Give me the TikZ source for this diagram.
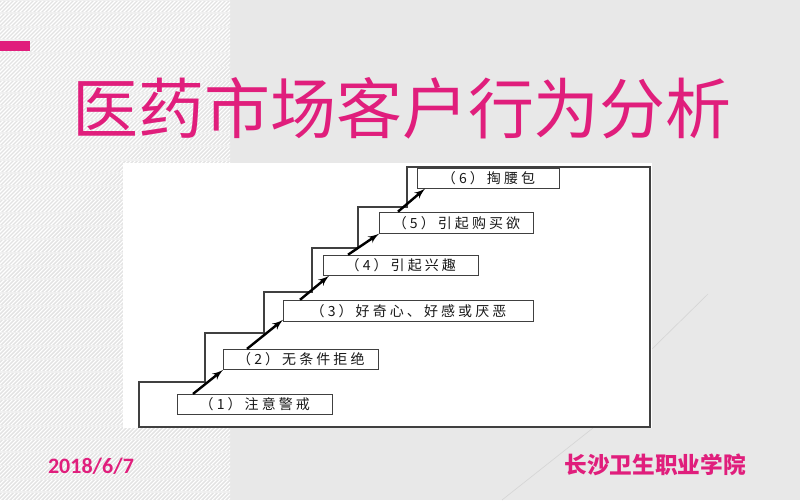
\documentclass[tikz,border=0pt]{standalone}
\usepackage{fontspec}
\setmainfont{Carlito}
\newfontfamily\cjk{Noto Sans CJK SC}
\newfontfamily\stepfont[LetterSpace=22]{Noto Sans CJK SC}
\usepackage{tikz}
\usetikzlibrary{arrows,calc,positioning}
\definecolor{rose}{HTML}{E01E7C}
\definecolor{paper}{HTML}{E8E8E8}

\begin{document}
\begin{tikzpicture}[auto,>=latex',x=0.75pt,y=-0.75pt]
	\tikzstyle{stage} = [draw=black!75, line width=0.8pt, fill=white, rectangle, minimum height=15pt, minimum width=116pt, inner sep=0pt, font=\stepfont\fontsize{10.5}{11}\selectfont, text=black!90]
	\tikzstyle{climb} = [->, line width=1.8pt]
	
	% background
	\useasboundingbox (0,0) rectangle (800,500);
	\fill [paper] (0,0) rectangle (800,500);
	\begin{scope}
		\clip (0,0) rectangle (230,500);
		\fill [black!11] (0,0) rectangle (230,500);
		\foreach \k in {-500,-496,...,232}
			\draw [white, line width=0.8pt] (\k,500) -- ++(500,-500);
		\foreach \y in {0,13.3,...,500}
			\draw [black!6, line width=1.4pt] (0,\y) -- (230,\y);
	\end{scope}
	\fill [rose] (0,41) rectangle (30,51);
	\draw [black!16, line width=0.5pt] (502,500) -- (593,428);
	\draw [black!16, line width=0.5pt] (652,349) -- (708,294);
	
	% title and footer
	\node [text=rose, font=\cjk\fontsize{49.5}{50}\selectfont] (title) at (402,108) {医药市场客户行为分析};
	\node [text=rose, font=\bfseries\fontsize{16.5}{18}\selectfont] (date) at (91,466) {2018/6/7};
	\node [text=rose, font=\cjk\bfseries\fontsize{17}{18}\selectfont] (school) at (655,465) {长沙卫生职业学院};
	
	% staircase
	\fill [white] (123,163) rectangle (652,428);
	\draw [black!75, line width=1pt] (139,427) -- (139,382) -- (205,382) -- (205,333) -- (264,333) -- (264,292) -- (312,292) -- (312,248) -- (358,248) -- (358,207) -- (407,207) -- (407,167) -- (650,167) -- (650,427) -- cycle;
	
	\node [stage, anchor=south west] (s1) at (177,415) {（1）注意警戒};
	\node [stage, above=18pt of s1.north west, anchor=south west, xshift=34.5pt] (s2) {（2）无条件拒绝};
	\node [stage, minimum width=187.5pt, minimum height=15.75pt, above=20.25pt of s2.north west, anchor=south west, xshift=45pt] (s3) {（3）好奇心、好感或厌恶};
	\node [stage, above=18pt of s3.north west, anchor=south west, xshift=30pt] (s4) {（4）引起兴趣};
	\node [stage, minimum width=115.5pt, minimum height=15.75pt, above=15.75pt of s4.north west, anchor=south west, xshift=42pt] (s5) {（5）引起购买欲};
	\node [stage, minimum width=106.5pt, above=17.25pt of s5.north west, anchor=south west, xshift=28.5pt] (s6) {（6）掏腰包};
	
	\draw [climb] ([xshift=12pt]s1.north west) -- (s2.south west);
	\draw [climb] ([xshift=18pt]s2.north west) -- ([yshift=1.5pt]s3.south west);
	\draw [climb] ([xshift=12.75pt]s3.north west) -- ([xshift=4.5pt]s4.south west);
	\draw [climb] ([xshift=18.75pt]s4.north west) -- (s5.south west);
	\draw [climb] ([xshift=14.25pt]s5.north west) -- ([xshift=6pt]s6.south west);
	
\end{tikzpicture}
\end{document}
